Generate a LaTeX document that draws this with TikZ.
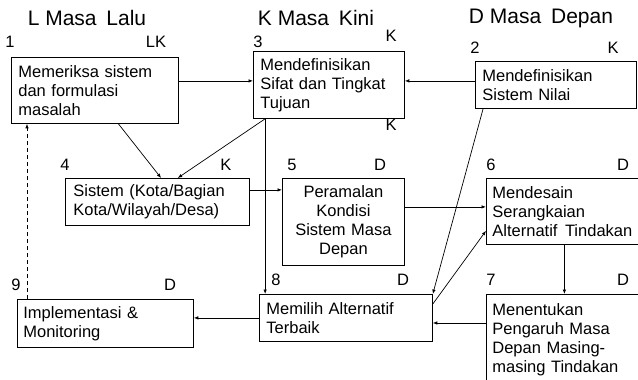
\documentclass[tikz,border=0pt]{standalone}
\usepackage{fontspec}
\setmainfont{Liberation Sans}
\usetikzlibrary{arrows.meta,positioning,calc}

\begin{document}
\begin{tikzpicture}[x=1pt,y=-1pt,
  box/.style={draw,line width=0.8pt,anchor=north west,inner xsep=7pt,inner ysep=0pt,
    align=left,font=\fontsize{16.5}{19}\selectfont},
  num/.style={font=\fontsize{16.5}{19}\selectfont},
  ttl/.style={font=\fontsize{21}{24}\selectfont},
  arr/.style={-{Latex[length=4.5pt,width=3.5pt]},line width=0.7pt}]
  \clip (0,0) rectangle (638,380);

  % headings
  \node[ttl] (tl) at (87,18) {L Masa\hspace{4pt} Lalu};
  \node[ttl] (tk) at (316,18) {K Masa\hspace{4pt} Kini};
  \node[ttl] (td) at (541,18) {D Masa\hspace{4pt} Depan};

  % boxes
  \node[box,text width=153pt,minimum height=66pt] (b1) at (11,57) {Memeriksa sistem\\dan formulasi\\masalah};
  \node[box,text width=137pt,minimum height=67pt] (b3) at (253,51) {Mendefinisikan\\Sifat dan Tingkat\\Tujuan};
  \node[box,text width=147pt,minimum height=47pt] (b2) at (475,61) {Mendefinisikan\\Sistem Nilai};
  \node[box,text width=168pt,minimum height=47pt,inner xsep=8pt] (b4) at (65,178) {Sistem (Kota/Bagian\\Kota/Wilayah/Desa)};
  \node[box,text width=108pt,minimum height=87pt,align=center] (b5) at (282,178) {Peramalan\\Kondisi\\Sistem Masa\\Depan};
  \node[box,text width=144pt,minimum height=66pt,inner xsep=6pt] (b6) at (486,178) {Mendesain\\Serangkaian\\Alternatif\hspace{2pt} Tindakan};
  \node[box,text width=144pt,minimum height=90pt,inner xsep=6pt] (b7) at (486,294) {Menentukan\\Pengaruh Masa\\Depan Masing-\\masing Tindakan};
  \node[box,text width=159pt,minimum height=47pt] (b8) at (259,294) {Memilih Alternatif\\Terbaik};
  \node[box,text width=164pt,minimum height=48pt,inner xsep=6pt] (b9) at (17,299) {Implementasi \&\\Monitoring};

  % numbers and time marks
  \node[num] (n1) at (10,42) {1};
  \node[num] (m1) at (156,42) {LK};
  \node[num] (n3) at (258,42) {3};
  \node[num] (m3) at (391,36) {K};
  \node[num] (m3b) at (391,125) {K};
  \node[num] (n2) at (475,48) {2};
  \node[num] (m2) at (613,48) {K};
  \node[num] (n4) at (65,165) {4};
  \node[num] (m4) at (226,165) {K};
  \node[num] (n5) at (292,165) {5};
  \node[num] (m5) at (380,165) {D};
  \node[num] (n6) at (491,165) {6};
  \node[num] (m6) at (623,165) {D};
  \node[num] (n7) at (491,280) {7};
  \node[num] (m7) at (623,280) {D};
  \node[num] (n8) at (276,280) {8};
  \node[num] (m8) at (403,280) {D};
  \node[num] (n9) at (16,285) {9};
  \node[num] (m9) at (170,285) {D};

  % connectors
  \coordinate (p13) at ([yshift=4pt]b3.west);
  \coordinate (p23) at ([yshift=4pt]b3.east);
  \coordinate (s3) at ($(b3.south west)!0.08!(b3.south east)$);
  \coordinate (p45) at ([yshift=12pt]b4.east);
  \coordinate (p56) at ([yshift=15pt]b5.east);
  \coordinate (p78) at ([yshift=-29pt]b7.north west);
  \coordinate (p91) at ([xshift=10pt]b9.north west);

  \draw[arr] (b1.east |- p13) -- (p13);
  \draw[arr] (b2.west |- p23) -- (p23);
  \draw[arr] ($(b1.south west)!0.64!(b1.south east)$) -- ($(b4.north west)!0.52!(b4.north east)$);
  \draw[arr] (s3) -- ($(b4.north west)!0.61!(b4.north east)$);
  \draw[arr] (s3) -- (s3 |- b8.north);
  \draw[arr] (p45) -- (p45 -| b5.west);
  \draw[arr] (p56) -- (p56 -| b6.west);
  \draw[arr] ($(b2.south west)!0.05!(b2.south east)$) -- (b8.north east);
  \draw[arr] ([yshift=-10pt]b8.north east) -- ([yshift=14pt]b6.south west);
  \draw[arr] (b6.south) -- (b7.north);
  \draw[arr] (p78) -- (p78 -| b8.east);
  \draw[arr] (b8.west) -- (b8.west -| b9.east);
  \draw[arr,dash pattern=on 4pt off 3pt] (p91) -- (p91 |- b1.south);
\end{tikzpicture}
\end{document}
